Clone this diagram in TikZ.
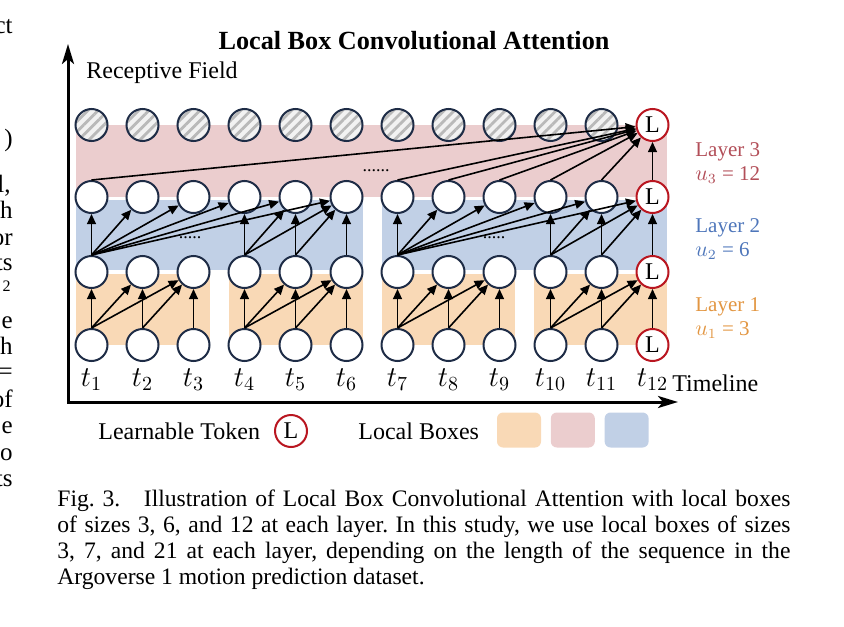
\documentclass[tikz,border=0pt]{standalone}
\usepackage{fontspec}
\setmainfont{Liberation Serif}
\usetikzlibrary{arrows.meta,patterns.meta,positioning}

\definecolor{boxorange}{RGB}{249,217,182}
\definecolor{boxpink}{RGB}{235,205,206}
\definecolor{boxblue}{RGB}{193,208,230}
\definecolor{navy}{RGB}{30,44,70}
\definecolor{lred}{RGB}{185,22,32}
\definecolor{txtred}{RGB}{178,78,88}
\definecolor{txtblue}{RGB}{78,118,186}
\definecolor{txtorange}{RGB}{226,150,66}

\tikzset{
  tok/.style={circle,draw=navy,line width=1pt,fill=white,minimum size=16pt,inner sep=0pt},
  learn/.style={tok,draw=lred,font=\fontsize{12}{12}\selectfont},
  pad/.style={tok,preaction={fill=gray!10},pattern={Lines[angle=45,distance=3.6pt,line width=1.4pt]},pattern color=gray!55},
  att/.style={-{Triangle[length=5pt,width=4.4pt]},line width=0.8pt},
  axis/.style={{Stealth[length=10pt,width=6pt,inset=2.5pt]}-{Stealth[length=10pt,width=6pt,inset=2.5pt]},line width=1.5pt,line join=miter},
  lbl/.style={font=\fontsize{12}{14}\selectfont,inner sep=0pt},
  tlbl/.style={font=\fontsize{14}{14}\selectfont,inner sep=0pt,anchor=base},
  laylbl/.style={font=\fontsize{10.5}{12}\selectfont,inner sep=0pt,anchor=base west},
  dotlbl/.style={font=\fontsize{9}{9}\selectfont,inner sep=0pt},
  legbox/.style={rounded corners=3pt,minimum width=22pt,minimum height=17.5pt,inner sep=0pt},
  frag/.style={font=\fontsize{12.5}{12.5}\selectfont,inner sep=0pt,anchor=base east}
}

\begin{document}
\begin{tikzpicture}[x=0.5pt,y=0.5pt,yscale=-1]
\useasboundingbox (0,0) rectangle (844,626);

%Shape: Rectangle (local boxes)
\fill[boxpink] (76,125) rectangle (667,197);
\fill[boxblue] (76,200) rectangle (363,270);
\fill[boxblue] (382,200) rectangle (667,270);
\fill[boxorange] (76,274) rectangle (210,345);
\fill[boxorange] (229,274) rectangle (363,345);
\fill[boxorange] (382,274) rectangle (515,345);
\fill[boxorange] (534,274) rectangle (667,345);

%Shape: Axis 2D
\coordinate (O) at (68,402);
\coordinate (ytop) at (68,44);
\coordinate (xend) at (678,402);
\draw[axis] (ytop) -- (O) -- (xend);

%Shape: Circle (tokens)
\foreach \i in {1,...,11}{
  \node[tok] (r0-\i) at ({91.5+(\i-1)*51},345) {};
  \node[tok] (r1-\i) at ({91.5+(\i-1)*51},272) {};
  \node[tok] (r2-\i) at ({91.5+(\i-1)*51},197) {};
  \node[pad] (r3-\i) at ({91.5+(\i-1)*51},125) {};
  \node[tlbl] (t\i) at ({91.5+(\i-1)*51},386) {$t_{\i}$};
}
\foreach \r/\y in {0/345,1/272,2/197,3/125}
  \node[learn] (r\r-12) at (652.5,\y) {L};
\node[tlbl] (t12) at (652.5,386) {$t_{12}$};

%Straight Lines (layer 1)
\foreach \g in {1,4,7,10}{
  \foreach \a/\b in {0/0,0/1,0/2,1/1,1/2,2/2}{
    \pgfmathtruncatemacro\s{\g+\a}
    \pgfmathtruncatemacro\d{\g+\b}
    \draw[att] (r0-\s.north) -- (r1-\d);
  }
}
%Straight Lines (layer 2)
\foreach \g in {1,7}{
  \foreach \a/\b in {0/0,0/1,0/2,0/3,0/4,0/5,3/3,3/4,3/5,4/4,4/5,5/5}{
    \pgfmathtruncatemacro\s{\g+\a}
    \pgfmathtruncatemacro\d{\g+\b}
    \draw[att] (r1-\s.north) -- (r2-\d);
  }
}
%Straight Lines (layer 3)
\foreach \s in {1,7,8,9,10,11,12}
  \draw[att] (r2-\s.north) -- (r3-12);

% Text Node
\node[dotlbl] (dots2a) at (190,238) {.....};
\node[dotlbl] (dots2b) at (494,238) {.....};
\node[dotlbl] (dots3) at (376,171) {......};

% Text Node
\node[lbl,anchor=base,font=\fontsize{13.1}{15}\selectfont\bfseries] (title) at (414,50) {Local Box Convolutional Attention};
\node[lbl,anchor=base west] (recep) at (86,79) {Receptive Field};
\node[lbl,anchor=base west] (timeline) at (672,391) {Timeline};

% Text Node
\node[laylbl,text=txtred] (lay3) at (695,156) {Layer 3};
\node[laylbl,text=txtred] (u3) at (695,180) {$u_{3}$ = 12};
\node[laylbl,text=txtblue] (lay2) at (695,232) {Layer 2};
\node[laylbl,text=txtblue] (u2) at (695,256) {$u_{2}$ = 6};
\node[laylbl,text=txtorange] (lay1) at (695,311) {Layer 1};
\node[laylbl,text=txtorange] (u1) at (695,335) {$u_{1}$ = 3};

% Legend
\node[lbl,anchor=base west] (learntxt) at (98,439) {Learnable Token};
\node[learn] (learnkey) at (291,431) {L};
\node[lbl,anchor=base west] (boxtxt) at (358,439) {Local Boxes};
\node[legbox,fill=boxorange] (keyorange) at (519,430) {};
\node[legbox,fill=boxpink,right=4.5pt of keyorange] (keypink) {};
\node[legbox,fill=boxblue,right=4.5pt of keypink] (keyblue) {};

% Caption
\node[anchor=north west,text width=366.5pt,align=justify,inner sep=0pt,font=\fontsize{11.8}{13}\selectfont\frenchspacing] (caption) at (57,489)
  {Fig.\ 3.\hspace{1em}Illustration of Local Box Convolutional Attention with local boxes\linebreak
   of sizes 3, 6, and 12 at each layer. In this study, we use local boxes of sizes\linebreak
   3, 7, and 21 at each layer, depending on the length of the sequence in the\linebreak
   Argoverse 1 motion prediction dataset.};

% Text Node (cut column on the left)
\node[frag] (f1) at (13,34) {ct};
\node[frag] (f2) at (13,146) {)};
\node[frag] (f3) at (11,192) {l,};
\node[frag] (f4) at (13,218) {h};
\node[frag] (f5) at (13,245) {or};
\node[frag] (f6) at (13,270) {ts};
\node[frag,font=\fontsize{8}{8}\selectfont] (f7) at (11,291) {2};
\node[frag] (f8) at (13,328) {e};
\node[frag] (f9) at (13,354) {h};
\node[frag] (f10) at (13,379) {=};
\node[frag] (f11) at (13,407) {of};
\node[frag] (f12) at (13,433) {e};
\node[frag] (f13) at (13,460) {o};
\node[frag] (f14) at (13,486) {ts};

\end{tikzpicture}
\end{document}
